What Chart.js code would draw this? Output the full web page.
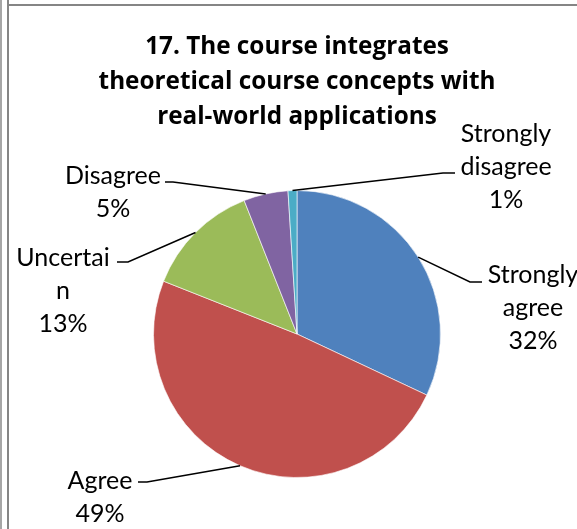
<!DOCTYPE html>
<html>
<head>
<meta charset="utf-8">
<script src="https://cdn.jsdelivr.net/npm/chart.js@4.4.0/dist/chart.umd.min.js"></script>
<style>
  body { margin: 0; background: #fff; }
  #wrap { position: relative; width: 577px; height: 529px; overflow: hidden; }
  .rule { position: absolute; }
</style>
</head>
<body>
<div id="wrap">
  <canvas id="chart17" width="577" height="529"></canvas>
  <div class="rule" style="left:0;top:0;width:2px;height:529px;background:#a6a6a6"></div>
  <div class="rule" style="left:7px;top:0;width:2px;height:529px;background:#858585"></div>
  <div class="rule" style="left:8px;top:4px;width:569px;height:2px;background:#858585"></div>
</div>
<script>
// 17. course integrates theory with real-world applications
// answers go clockwise from 12 o'clock

const categories = ['Strongly agree', 'Agree', 'Uncertain', 'Disagree', 'Strongly disagree'];
const percents = [32, 49, 13, 5, 1];
// how the labels wrap in the original
const labelLines = [['Strongly', 'agree'], ['Agree'], ['Uncertai', 'n'], ['Disagree'], ['Strongly', 'disagree']];
const titleLines = ['17. The course integrates', 'theoretical course concepts with', 'real-world applications'];
const sliceColors = ['#4F81BD', '#C0504D', '#9BBB59', '#8064A2', '#4BACC6'];

// label placement, relative to the pie centre: text centre (tx, first line ty) and elbow of leader (ex, ey, end hx)
const labelSpots = [
  { tx: 236, ty: -59, ex: 173, ey: -52, hx: 185 },
  { tx: -197, ty: 147, ex: -150, ey: 148, hx: -159 },
  { tx: -234, ty: -76, ex: -169, ey: -72, hx: -180 },
  { tx: -184, ty: -158, ex: -124, ey: -152, hx: -132 },
  { tx: 209, ty: -200, ex: 146, ey: -161, hx: 158 }
];

const labelFont = '25px Lato, "Open Sans", sans-serif';
const titleFont = 'bold 24.3px "Open Sans", Lato, sans-serif';

const labelPlugin = {
  id: 'pieLabels',
  afterDatasetsDraw(chart) {
    const ctx = chart.ctx;
    const arcs = chart.getDatasetMeta(0).data;
    const cx = arcs[0].x, cy = arcs[0].y;

    ctx.save();
    // title
    ctx.fillStyle = '#000';
    ctx.textAlign = 'center';
    ctx.textBaseline = 'middle';
    ctx.font = titleFont;
    titleLines.forEach(function(t, i) {
      ctx.fillText(t, cx, 47 + i * 35);
    });

    ctx.font = labelFont;
    ctx.strokeStyle = '#000';
    ctx.lineWidth = 1.5;
    arcs.forEach(function(arc, i) {
      const p = arc.getProps(['x', 'y', 'startAngle', 'endAngle', 'outerRadius'], true);
      const mid = (p.startAngle + p.endAngle) / 2;
      const px = p.x + Math.cos(mid) * p.outerRadius;
      const py = p.y + Math.sin(mid) * p.outerRadius;
      const s = labelSpots[i];
      ctx.beginPath();
      ctx.moveTo(px, py);
      ctx.lineTo(cx + s.ex, cy + s.ey);
      ctx.lineTo(cx + s.hx, cy + s.ey);
      ctx.stroke();

      const lines = labelLines[i].concat([percents[i] + '%']);
      lines.forEach(function(l, j) {
        ctx.fillText(l, cx + s.tx, cy + s.ty + j * 33);
      });
    });
    ctx.restore();
  }
};

new Chart(document.getElementById('chart17'), {
  type: 'pie',
  data: {
    labels: categories,
    datasets: [{
      data: percents,
      backgroundColor: sliceColors,
      borderColor: 'rgba(255,255,255,0.6)',
      borderWidth: 1
    }]
  },
  options: {
    responsive: false,
    animation: false,
    layout: { padding: { top: 190, bottom: 51, left: 153, right: 136 } },
    plugins: {
      legend: { display: false },
      tooltip: { enabled: false },
      title: { display: false }
    }
  },
  plugins: [labelPlugin]
});
</script>
</body>
</html>
